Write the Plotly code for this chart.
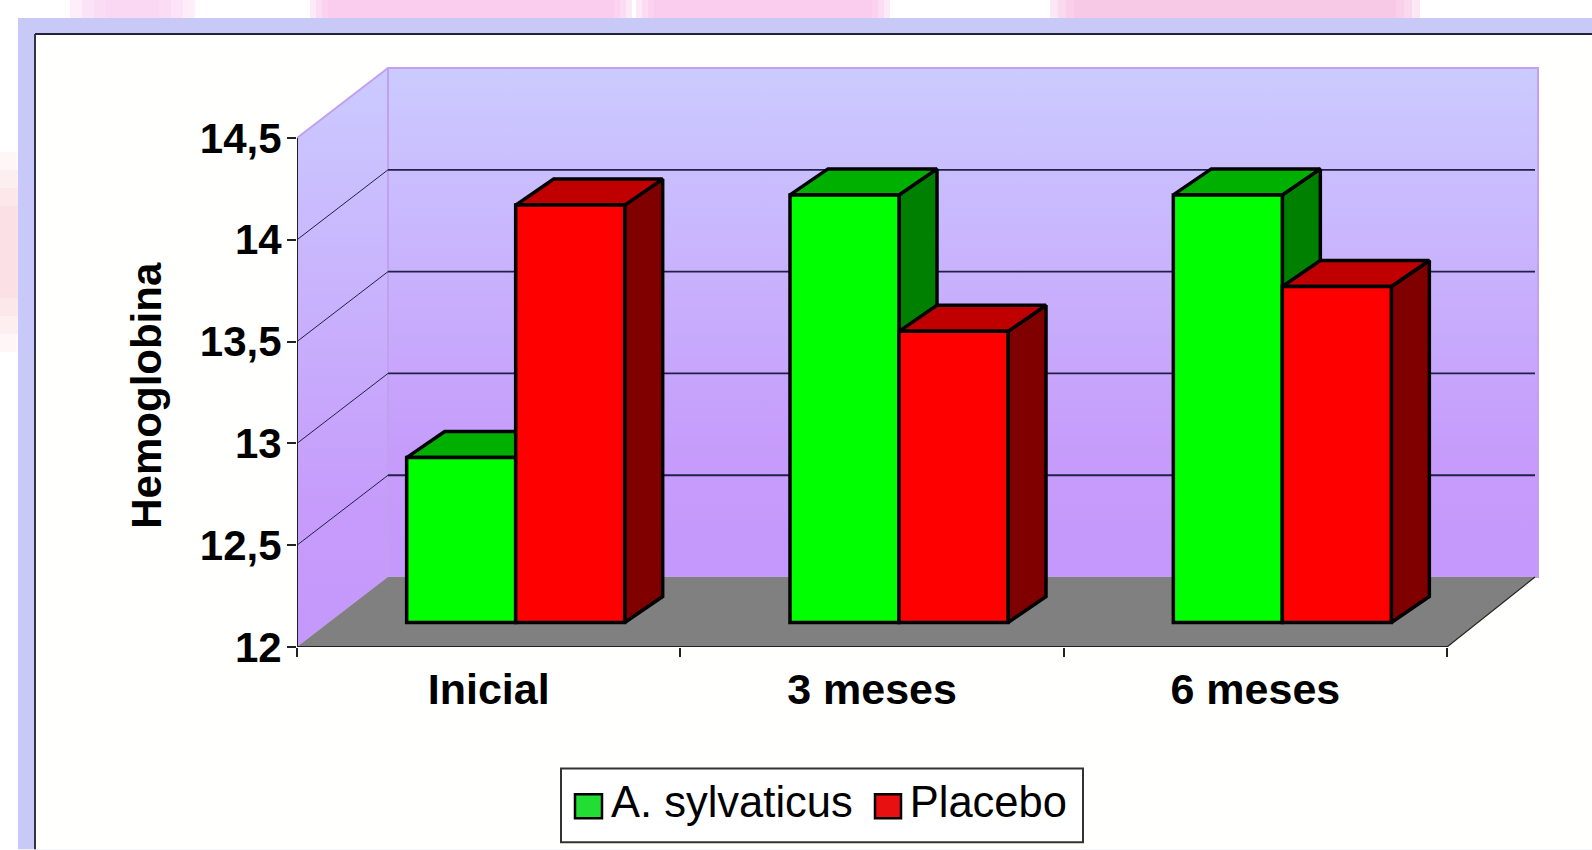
import plotly.graph_objects as go

# ---- data ----
categories = ["Inicial", "3 meses", "6 meses"]
a_sylvaticus = [12.81, 14.10, 14.10]
placebo = [14.05, 13.43, 13.65]
y_ticks = [12, 12.5, 13, 13.5, 14, 14.5]
y_labels = ["12", "12,5", "13", "13,5", "14", "14,5"]
grid_values = [12.5, 13, 13.5, 14]

# ---- geometry (pixels of the 1592x850 page) ----
W, H = 1592, 850
AX_L, AX_R, AX_T, AX_B = 297, 1447, 138, 647.5   # the front plane of the chart
PLOT_R, PLOT_T = 1548, 60                        # plot box, large enough for the walls
PX_X = (AX_R - AX_L) / 3
PX_Y = (AX_B - AX_T) / 2.5
WALL_DX, WALL_DY = 91 / PX_X, 70 / PX_Y       # depth of the box
FLOOR_R_DX = 88 / PX_X                        # right end of floor and gridlines
FRONT_DX, FRONT_DY = 31 / PX_X, 24.5 / PX_Y   # front plane of the bars
BAR_DX, BAR_DY = 38 / PX_X, 26 / PX_Y         # depth of a bar
BAR_W = 109 / PX_X
GREEN_OFF = -82 / PX_X
X0, X1, Y0, Y1 = -0.5, 2.5, 12, 14.5
X_MAX = X0 + (PLOT_R - AX_L) / PX_X
Y_MAX = Y0 + (AX_B - PLOT_T) / PX_Y
BASE = Y0 + FRONT_DY
FONT = "Liberation Sans, Arial, sans-serif"


def px(x):
    return (x - AX_L) / (PLOT_R - AX_L)


def py(y):
    return (AX_B - y) / (AX_B - PLOT_T)


fig = go.Figure()


def poly(xs, ys, fill, line="black", width=3.5, **kw):
    fig.add_trace(go.Scatter(x=xs, y=ys, mode="lines", fill="toself", fillcolor=fill,
                             line=dict(color=line, width=width), cliponaxis=False,
                             showlegend=False, hoverinfo="skip", **kw))


def edge(xs, ys, color, width):
    fig.add_trace(go.Scatter(x=xs, y=ys, mode="lines", line=dict(color=color, width=width),
                             cliponaxis=False, showlegend=False, hoverinfo="skip"))


wall_scale = [[0, "#C498FC"], [0.25, "#C69CFB"], [1, "#CBCBFF"]]
wall_grad = dict(type="vertical", colorscale=wall_scale)
# side wall
poly([X0, X0, X0 + WALL_DX, X0 + WALL_DX, X0], [Y0, Y1, Y1 + WALL_DY, Y0 + WALL_DY, Y0],
     "#C8B0FC", line="#C3A0EE", width=2, fillgradient=wall_grad)
# back wall
poly([X0 + WALL_DX, X0 + WALL_DX, X1 + WALL_DX, X1 + WALL_DX, X0 + WALL_DX],
     [Y0 + WALL_DY, Y1 + WALL_DY, Y1 + WALL_DY, Y0 + WALL_DY, Y0 + WALL_DY],
     "#C8B0FC", line="#C3A0EE", width=2, fillgradient=wall_grad)
# floor
poly([X0, X1, X1 + FLOOR_R_DX, X0 + WALL_DX, X0], [Y0, Y0, Y0 + WALL_DY, Y0 + WALL_DY, Y0],
     "#808080", line="rgba(0,0,0,0)", width=0)
edge([X1, X1 + FLOOR_R_DX], [Y0, Y0 + WALL_DY], "#222222", 1.2)

# gridlines on both walls
back_x, back_y, side_x, side_y = [], [], [], []
for g in grid_values:
    back_x += [X0 + WALL_DX, X1 + FLOOR_R_DX, None]
    back_y += [g + WALL_DY, g + WALL_DY, None]
    side_x += [X0, X0 + WALL_DX, None]
    side_y += [g, g + WALL_DY, None]
edge(back_x, back_y, "#20204A", 1.8)
edge(side_x, side_y, "#20204A", 1)

# axis lines of the front plane
edge([X0, X0], [Y0, Y1], "#222222", 2)
edge([X0, X1], [Y0, Y0], "#222222", 2)

# side and top faces of the bars, derived from the values
green_left = [i + GREEN_OFF for i in range(3)]
for i in range(3):
    gl, gr = green_left[i], green_left[i] + BAR_W
    rl, rr = gr, gr + BAR_W
    gv, rv = a_sylvaticus[i] + FRONT_DY, placebo[i] + FRONT_DY
    poly([gr, gr + BAR_DX, gr + BAR_DX, gr, gr], [BASE, BASE + BAR_DY, gv + BAR_DY, gv, BASE], "#008000")
    poly([gl, gl + BAR_DX, gr + BAR_DX, gr, gl], [gv, gv + BAR_DY, gv + BAR_DY, gv, gv], "#00B000")
    poly([rr, rr + BAR_DX, rr + BAR_DX, rr, rr], [BASE, BASE + BAR_DY, rv + BAR_DY, rv, BASE], "#800000")
    poly([rl, rl + BAR_DX, rr + BAR_DX, rr, rl], [rv, rv + BAR_DY, rv + BAR_DY, rv, rv], "#C00000")

# front faces: real bars on an overlaid pair of axes
fig.add_trace(go.Bar(name="A. sylvaticus", x=[0, 1, 2], y=[v - Y0 for v in a_sylvaticus],
                     base=BASE, width=BAR_W, offset=GREEN_OFF, xaxis="x2", yaxis="y2", showlegend=False,
                     marker=dict(color="#00FF00", line=dict(color="black", width=3.5))))
fig.add_trace(go.Bar(name="Placebo", x=[0, 1, 2], y=[v - Y0 for v in placebo],
                     base=BASE, width=BAR_W, offset=GREEN_OFF + BAR_W, xaxis="x2", yaxis="y2", showlegend=False,
                     marker=dict(color="#FF0000", line=dict(color="black", width=3.5))))

# legend entries
GREEN_KEY, RED_KEY = "#22DD33", "#E81010"
for name, color in (("A. sylvaticus", GREEN_KEY), ("Placebo", RED_KEY)):
    fig.add_trace(go.Scatter(name=name, x=[None], y=[None], mode="markers",
                             marker=dict(symbol="square", size=8, color=color, line=dict(width=0))))


# page decoration
def blob(x0, x1, y0, y1, color, inset_x=0, inset_y=0, steps=4, opacity=0.35):
    out = []
    for k in range(steps):
        out.append(dict(type="rect", x0=px(x0 + inset_x * k), x1=px(x1 - inset_x * k),
                        y0=py(y0 + inset_y * k), y1=py(y1 - inset_y * k),
                        fillcolor=color, opacity=opacity))
    return out


shapes = (blob(70, 195, 0, 24, "#F9CFF0", inset_x=12)
          + blob(310, 632, 0, 24, "#F9C4EA", inset_x=6)
          + blob(636, 890, 0, 24, "#F9C4EA", inset_x=6)
          + blob(1050, 1420, 0, 24, "#F6BEE2", inset_x=8)
          + blob(0, 24, 152, 352, "#FBC0CC", inset_y=18, opacity=0.15)
          + [
              dict(type="rect", x0=px(18), x1=px(W), y0=py(18), y1=py(H), fillcolor="#C9C9F8"),
              dict(type="rect", x0=px(35), x1=px(W), y0=py(34), y1=py(H), fillcolor="#FFFFFD"),
              dict(type="line", x0=px(35), x1=px(W), y0=py(34), y1=py(34), line=dict(color="#22223A", width=2)),
              dict(type="line", x0=px(35), x1=px(35), y0=py(34), y1=py(H), line=dict(color="#33334A", width=2)),
              # legend frame and its larger keys, under the legend itself
              dict(type="rect", x0=px(561), x1=px(1083), y0=py(769), y1=py(843), fillcolor="white",
                   line=dict(color="#333333", width=2)),
              dict(type="rect", x0=px(575), x1=px(602), y0=py(795), y1=py(819), fillcolor=GREEN_KEY,
                   line=dict(color="black", width=2.5)),
              dict(type="rect", x0=px(875), x1=px(901), y0=py(795), y1=py(819), fillcolor=RED_KEY,
                   line=dict(color="black", width=2.5)),
          ])
for s in shapes:
    s.update(xref="paper", yref="paper", layer="below")
    if s["type"] == "rect" and "line" not in s:
        s["line"] = dict(width=0)

x_common = dict(range=[X0, X_MAX], showgrid=False, zeroline=False)
y_common = dict(range=[Y0, Y_MAX], showgrid=False, zeroline=False)
fig.update_layout(
    width=W, height=H, autosize=False,
    margin=dict(l=AX_L, r=W - PLOT_R, t=PLOT_T, b=H - AX_B, pad=0),
    paper_bgcolor="white", plot_bgcolor="rgba(0,0,0,0)",
    font=dict(family=FONT, color="black"),
    barmode="overlay", shapes=shapes,
    xaxis=dict(**x_common, tickmode="array", tickvals=[0, 1, 2], ticktext=categories,
               ticks="", showline=False,
               tickfont=dict(size=43, family=FONT, weight="bold"), ticklabelstandoff=13,
               minor=dict(tickmode="array", tickvals=[-0.5, 0.5, 1.5, 2.5], ticks="outside",
                          ticklen=9, tickwidth=1.5, tickcolor="#222222")),
    yaxis=dict(**y_common, tickmode="array", tickvals=y_ticks, ticktext=y_labels,
               ticks="outside", ticklen=9, tickwidth=2, tickcolor="#222222", showline=False,
               tickfont=dict(size=42, family=FONT, weight="bold"), ticklabelstandoff=-3),
    xaxis2=dict(**x_common, overlaying="x", visible=False, anchor="y2"),
    yaxis2=dict(**y_common, overlaying="y", visible=False, anchor="x2"),
    annotations=[dict(text="Hemoglobina", textangle=-90, showarrow=False, xref="paper", yref="paper",
                      x=px(147), y=py(396), xanchor="center", yanchor="middle",
                      font=dict(size=42, family=FONT, weight="bold", color="black"))],
    legend=dict(orientation="h", x=px(559), y=py(766), xanchor="left", yanchor="top",
                bgcolor="rgba(0,0,0,0)", borderwidth=0, itemwidth=42,
                font=dict(size=43.5, family=FONT, color="black"), itemclick=False, itemdoubleclick=False),
)

fig.write_html("out.html", config=dict(displayModeBar=False),
               post_script="document.body.style.margin='0';document.body.style.overflow='hidden';")
